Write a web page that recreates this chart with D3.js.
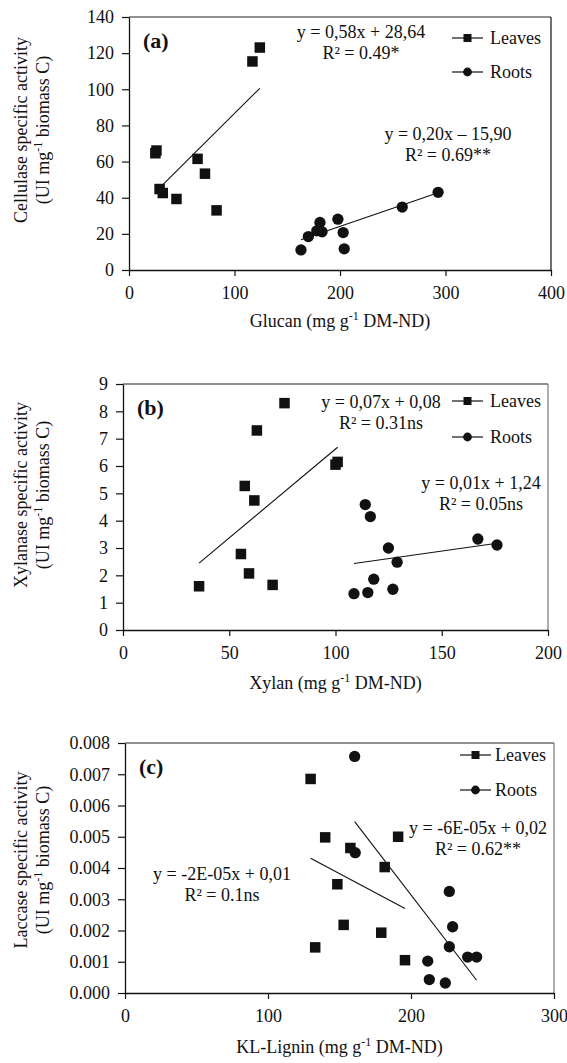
<!DOCTYPE html>
<html><head><meta charset="utf-8">
<script src="https://cdn.jsdelivr.net/npm/d3@7"></script>
<style>
body{margin:0;background:#fff}
text{font-family:"Liberation Serif","Times New Roman",serif;fill:#111}
</style>
</head><body>
<svg id="chart" width="567" height="1063"></svg>
<script>
// ---------- DATA ----------
// Panel (a) Glucan vs Cellulase
const glucanTicks = [0, 100, 200, 300, 400];
const cellulaseTicks = [0, 20, 40, 60, 80, 100, 120, 140];
const glucanLeaves    = [25, 26, 29, 32, 45, 65, 72, 83, 117, 124];
const cellulaseLeaves = [64.6, 66.1, 44.8, 42.6, 39.3, 61.5, 53.3, 33, 115.4, 123.1];
const glucanRoots     = [163, 170, 178, 181, 183, 198, 203, 204, 259, 293];
const cellulaseRoots  = [11.1, 18.5, 21.7, 26.3, 21.1, 28.1, 20.7, 11.7, 34.8, 43];
const trendA = [ {series:"Leaves", slope:0.58, intercept:28.64}, {series:"Roots", slope:0.20, intercept:-15.90} ];
const eqA = [["y = 0,58x + 28,64","R² = 0.49*"],["y = 0,20x – 15,90","R² = 0.69**"]];

// Panel (b) Xylan vs Xylanase
const xylanTicks = [0, 50, 100, 150, 200];
const xylanaseTicks = [0, 1, 2, 3, 4, 5, 6, 7, 8, 9];
const xylanLeaves    = [35.8, 55.5, 59.3, 70.4, 61.8, 57.3, 63, 76, 100, 101];
const xylanaseLeaves = [1.6, 2.78, 2.07, 1.65, 4.74, 5.27, 7.3, 8.3, 6.05, 6.15];
const xylanRoots     = [108.7, 115.2, 118, 127, 129, 124.9, 114, 116.4, 167, 176];
const xylanaseRoots  = [1.33, 1.37, 1.86, 1.49, 2.48, 3.0, 4.59, 4.15, 3.33, 3.11];
const trendB = [ {series:"Leaves", slope:0.065, intercept:0.12}, {series:"Roots", slope:0.011, intercept:1.24} ];
const eqB = [["y = 0,07x + 0,08","R² = 0.31ns"],["y = 0,01x + 1,24","R² = 0.05ns"]];

// Panel (c) KL-Lignin vs Laccase
const ligninTicks = [0, 100, 200, 300];
const laccaseTicks = [0, 0.001, 0.002, 0.003, 0.004, 0.005, 0.006, 0.007, 0.008];
const ligninLeaves  = [129.8, 140, 157.6, 191, 181.6, 148.5, 152.9, 179.2, 133, 195.8];
const laccaseLeaves = [0.00685, 0.00498, 0.00464, 0.005, 0.00403, 0.00348, 0.00218, 0.00193, 0.00146, 0.00105];
const ligninRoots   = [160.6, 161, 226.8, 229.1, 226.8, 239.6, 245.9, 211.7, 212.8, 224];
const laccaseRoots  = [0.00757, 0.00449, 0.00325, 0.00212, 0.00148, 0.00115, 0.00115, 0.00102, 0.00043, 0.00032];
const trendC = [ {series:"Leaves", slope:-2.44e-5, intercept:0.00748}, {series:"Roots", slope:-5.95e-5, intercept:0.01504} ];
const eqC = [["y = -2E-05x + 0,01","R² = 0.1ns"],["y = -6E-05x + 0,02","R² = 0.62**"]];

const seriesNames = ["Leaves", "Roots"];

// ---------- LAYOUT ----------
const svg = d3.select("#chart");
const FS = 18;

const panels = [
  { tag:"(a)", box:{l:129,r:551,t:17,b:270}, rightStroke:"#111",
    xTicks:glucanTicks, yTicks:cellulaseTicks, yFmt:d3.format("d"),
    data:{Leaves:[glucanLeaves,cellulaseLeaves], Roots:[glucanRoots,cellulaseRoots]},
    trend:trendA, eq:eqA,
    eqPos:[{x:361,y:38},{x:448,y:140}],
    legend:{x:452, y:[38,72], tx:490},
    xTitle:"Glucan", xTitleY:327, yTitle:"Cellulase specific activity", yTitleC:130 },
  { tag:"(b)", box:{l:123,r:548,t:384,b:630}, rightStroke:"#777",
    xTicks:xylanTicks, yTicks:xylanaseTicks, yFmt:d3.format("d"),
    data:{Leaves:[xylanLeaves,xylanaseLeaves], Roots:[xylanRoots,xylanaseRoots]},
    trend:trendB, eq:eqB,
    eqPos:[{x:381,y:408},{x:481,y:489}],
    legend:{x:452, y:[401,437], tx:490},
    xTitle:"Xylan", xTitleY:689, yTitle:"Xylanase specific activity", yTitleC:495 },
  { tag:"(c)", box:{l:125,r:554,t:743,b:993}, rightStroke:"#777",
    xTicks:ligninTicks, yTicks:laccaseTicks, yFmt:d3.format(".3f"),
    data:{Leaves:[ligninLeaves,laccaseLeaves], Roots:[ligninRoots,laccaseRoots]},
    trend:trendC, eq:eqC,
    eqPos:[{x:222,y:880},{x:478,y:834}],
    legend:{x:460, y:[755,790], tx:495},
    xTitle:"KL-Lignin", xTitleY:1053, yTitle:"Laccase specific activity", yTitleC:860 }
];

function drawMarker(g, type, cx, cy, s){
  if(type === "Leaves"){
    g.append("rect").attr("x", cx - s/2).attr("y", cy - s/2).attr("width", s).attr("height", s).attr("fill", "#111");
  } else {
    g.append("circle").attr("cx", cx).attr("cy", cy).attr("r", s/2 + 0.4).attr("fill", "#111");
  }
}

panels.forEach(p => {
  const b = p.box;
  const x = d3.scaleLinear().domain(d3.extent(p.xTicks)).range([b.l, b.r]);
  const y = d3.scaleLinear().domain(d3.extent(p.yTicks)).range([b.b, b.t]);
  const g = svg.append("g");

  // frame top & right
  g.append("line").attr("x1", b.l).attr("x2", b.r).attr("y1", b.t).attr("y2", b.t).attr("stroke", "#222").attr("stroke-width", 1.2);
  g.append("line").attr("x1", b.r).attr("x2", b.r).attr("y1", b.t).attr("y2", b.b).attr("stroke", p.rightStroke).attr("stroke-width", 1.2);

  // axes
  const xa = g.append("g").attr("transform", `translate(0,${b.b})`)
    .call(d3.axisBottom(x).tickValues(p.xTicks).tickFormat(d3.format("d")).tickSize(6).tickSizeOuter(0).tickPadding(10));
  const ya = g.append("g").attr("transform", `translate(${b.l},0)`)
    .call(d3.axisLeft(y).tickValues(p.yTicks).tickFormat(p.yFmt).tickSize(7).tickSizeOuter(0).tickPadding(8));
  [xa, ya].forEach(a => {
    a.selectAll("path.domain").attr("stroke", "#111").attr("stroke-width", 1.3);
    a.selectAll(".tick line").attr("stroke", "#111").attr("stroke-width", 1.2);
    a.selectAll(".tick text").attr("font-size", FS).attr("font-family", "Liberation Serif").attr("fill", "#111");
  });

  // trendlines
  p.trend.forEach(t => {
    const xs = p.data[t.series][0];
    const [x0, x1] = d3.extent(xs);
    g.append("line")
      .attr("x1", x(x0)).attr("y1", y(t.slope * x0 + t.intercept))
      .attr("x2", x(x1)).attr("y2", y(t.slope * x1 + t.intercept))
      .attr("stroke", "#111").attr("stroke-width", 1.1);
  });

  // points
  seriesNames.forEach(s => {
    const [xs, ys] = p.data[s];
    xs.forEach((v, i) => drawMarker(g, s, x(v), y(ys[i]), 10.5));
  });

  // panel tag
  g.append("text").attr("x", b.l + 14).attr("y", b.t + 31).attr("font-size", 22).attr("font-weight", "bold").text(p.tag);

  // equations
  p.eq.forEach((lines, k) => {
    lines.forEach((ln, j) => {
      g.append("text").attr("x", p.eqPos[k].x).attr("y", p.eqPos[k].y + j*21)
        .attr("text-anchor", "middle").attr("font-size", FS).text(ln);
    });
  });

  // legend
  seriesNames.forEach((s, k) => {
    const ly = p.legend.y[k];
    g.append("line").attr("x1", p.legend.x).attr("x2", p.legend.x + 31).attr("y1", ly).attr("y2", ly).attr("stroke", "#111").attr("stroke-width", 1.2);
    drawMarker(g, s, p.legend.x + 15.5, ly, 8);
    g.append("text").attr("x", p.legend.tx).attr("y", ly + 6).attr("font-size", FS).text(s);
  });

  // x title
  const xt = g.append("text").attr("x", (b.l + b.r)/2).attr("y", p.xTitleY).attr("text-anchor", "middle").attr("font-size", FS);
  xt.append("tspan").text(p.xTitle + " (mg g");
  xt.append("tspan").attr("font-size", 12).attr("dy", -7).text("-1");
  xt.append("tspan").attr("dy", 7).text(" DM-ND)");

  // y title (two lines)
  g.append("text").attr("transform", `translate(27,${p.yTitleC}) rotate(-90)`).attr("text-anchor", "middle").attr("font-size", FS).text(p.yTitle);
  const yt2 = g.append("text").attr("transform", `translate(49,${p.yTitleC}) rotate(-90)`).attr("text-anchor", "middle").attr("font-size", FS);
  yt2.append("tspan").text("(UI mg");
  yt2.append("tspan").attr("font-size", 12).attr("dy", -7).text("-1");
  yt2.append("tspan").attr("dy", 7).text(" biomass C)");
});
</script>
</body></html>
